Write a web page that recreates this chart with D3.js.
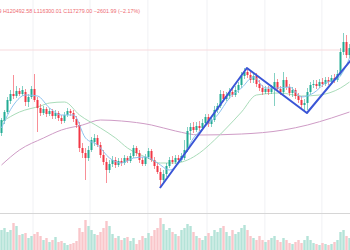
<!DOCTYPE html>
<html>
<head>
<meta charset="utf-8">
<script src="https://cdn.jsdelivr.net/npm/d3@7"></script>
<style>
  html, body { margin: 0; padding: 0; background: #fff; overflow: hidden; }
  svg { display: block; }
</style>
</head>
<body>
<svg id="chart" width="350" height="250"></svg>
<script>
// candles, prices in thousands (USD)
const open  = [110.7,111.9,112.8,113.9,114.6,114.4,114.9,114.6,114.8,113.8,114.3,115.1,114.0,113.2,112.7,113.1,112.6,112.9,112.4,112.7,
  112.2,111.9,112.5,112.9,112.7,112.1,111.5,109.2,108.7,108.2,109.0,109.8,110.2,109.5,108.5,107.8,107.0,107.6,108.0,107.5,
  107.9,107.7,108.2,107.9,108.4,109.2,108.7,108.0,107.6,108.3,108.9,108.0,107.4,106.8,106.0,106.6,107.4,108.0,107.8,108.2,
  108.0,108.2,109.0,110.9,111.3,111.0,111.4,111.2,111.7,112.3,111.6,112.0,113.0,113.4,114.6,114.1,114.4,114.8,114.5,115.0,
  115.5,116.4,116.8,116.5,116.0,116.4,115.6,115.2,114.8,115.1,114.8,115.2,115.8,115.1,114.8,116.0,115.3,114.7,115.0,114.4,
  114.0,113.5,113.7,114.8,115.5,115.6,115.4,115.8,115.6,116.0,115.8,116.2,116.0,116.6,118.8,119.8,118.5];
const high  = [112.2,113.0,114.3,115.0,116.5,115.4,115.2,115.4,115.1,114.6,115.4,116.6,114.3,113.6,113.4,113.3,113.2,113.1,113.0,112.9,
  112.5,112.8,113.2,113.1,113.0,112.4,111.8,109.7,109.2,109.4,110.3,110.6,110.5,109.8,109.0,108.2,108.0,108.4,108.3,108.2,
  108.2,108.5,108.4,108.7,109.5,109.4,109.0,108.3,108.6,109.2,109.1,108.3,107.7,107.2,107.0,107.7,108.3,108.4,108.5,108.5,
  108.7,110.0,111.3,111.7,111.8,111.8,111.9,112.1,112.6,112.6,112.3,113.4,113.7,115.0,114.9,114.8,115.2,115.3,115.4,115.8,
  116.8,117.2,117.2,116.9,116.8,116.7,116.0,115.5,115.4,115.4,115.5,116.7,116.1,115.4,116.8,116.3,115.6,115.3,115.2,114.7,
  114.4,114.1,115.2,115.8,116.0,116.0,116.1,116.2,116.3,116.3,116.5,116.6,117.0,119.2,120.7,120.5,119.6];
const low   = [110.4,111.6,112.6,113.6,114.1,114.2,114.4,114.4,113.4,113.3,114.1,113.8,110.8,112.4,112.5,112.3,112.4,112.1,112.1,111.9,
  111.6,111.7,112.3,112.4,111.8,111.2,108.8,108.2,106.0,107.9,108.8,109.4,109.3,108.2,107.5,105.7,106.7,107.3,107.2,107.3,
  107.4,107.5,107.7,107.7,108.2,108.4,107.7,107.4,107.4,108.1,107.8,107.1,106.6,105.2,105.8,106.3,107.2,107.6,107.6,107.8,
  107.8,108.0,108.8,110.0,110.7,110.8,110.9,111.0,111.4,111.3,111.3,111.8,112.7,113.2,113.8,113.9,114.1,114.3,114.3,114.7,
  115.2,116.1,116.2,115.7,115.7,115.3,114.9,114.5,114.6,114.5,114.6,113.4,114.8,114.5,114.6,115.0,114.4,114.3,114.1,113.7,
  113.1,112.8,113.0,114.5,115.2,115.1,115.2,115.3,115.4,115.5,115.6,115.7,115.8,116.4,118.5,118.2,118.2];
const close = [112.0,112.8,114.0,114.6,114.4,114.9,114.6,115.0,113.8,114.3,115.1,114.0,113.2,112.7,113.1,112.6,112.9,112.4,112.7,112.2,
  111.9,112.5,112.9,112.7,112.1,111.5,109.2,108.7,108.2,109.0,110.0,110.2,109.5,108.5,107.8,107.0,107.6,108.0,107.5,107.9,
  107.7,108.2,107.9,108.4,109.2,108.7,108.0,107.6,108.3,108.9,108.0,107.4,106.8,106.0,106.6,107.4,108.0,107.8,108.2,108.0,
  108.4,109.0,110.9,111.3,111.0,111.4,111.2,111.7,112.3,111.6,112.0,113.0,113.4,114.6,114.1,114.4,114.8,114.5,115.0,115.5,
  116.4,116.8,116.5,116.0,116.4,115.6,115.2,114.8,115.1,114.8,115.2,115.8,115.1,114.8,116.0,115.3,114.7,115.0,114.4,114.0,
  113.5,113.7,114.8,115.5,115.6,115.4,115.8,115.6,116.0,115.8,116.2,116.0,116.6,118.8,119.8,118.5,119.2];
const volume = [20,22,18,20,27,24,15,16,17,12,14,16,18,14,10,12,8,10,13,8,
  9,7,5,6,7,9,22,18,30,24,20,16,15,18,22,29,24,16,12,14,
  10,12,13,9,12,6,10,14,12,17,14,20,22,32,26,20,22,18,16,14,
  20,22,26,24,18,14,12,10,14,17,14,20,18,22,24,18,14,20,16,18,
  22,25,20,14,12,10,14,10,8,10,12,14,10,8,12,10,7,6,8,10,
  7,10,14,10,7,6,5,7,6,5,6,8,10,18,20,14,12];

// moving averages: [candle index, value]
const maFast = [[0,111.2],[4,113.5],[8,114.5],[12,114.4],[16,113.2],[20,112.5],[24,112.5],[28,110.2],[32,109.5],[36,108.2],
  [40,107.7],[44,108.2],[48,108.3],[52,107.7],[56,107.0],[60,108.0],[64,110.2],[68,111.4],[72,112.5],[76,114.2],
  [80,115.2],[84,116.3],[88,115.2],[92,115.2],[96,115.3],[100,114.3],[104,114.7],[108,115.7],[112,116.1],[116,118.2]];
const maMid = [[0,111.8],[6,112.8],[13,113.4],[16,113.7],[21,113.8],[26,112.5],[33,111.2],[38,110.2],[42,109.2],[48,108.3],
  [53,107.7],[58,107.7],[62,108.0],[66,108.7],[71,110.0],[75,111.2],[80,112.8],[85,114.5],[93,114.7],[100,114.4],
  [106,114.5],[113,115.2],[116,115.8]];
const maSlow = [[0,107.5],[6,109.0],[14,110.2],[20,111.0],[27,111.5],[33,112.0],[40,111.9],[50,111.5],[58,110.9],[66,110.5],
  [80,110.6],[94,111.0],[102,111.5],[110,112.2],[116,112.8]];

// hand-drawn trendlines: [candle index, value]
const trend = [[52.8,105.2],[81.8,117.2],[101.8,112.7],[116.5,118.0]];

const gridIdx = [10.5, 29.5, 48.8, 68.5, 87.8, 106.8];
const markLevel = 119.0;
const header = 'O119880.99 H120492.58 L116300.01 C117279.00 \u22122601.99 (\u22122.17%)';

const width = 350, height = 250;
const svg = d3.select('#chart');

const x = d3.scaleLinear().domain([0, close.length - 1]).range([1.5, 349.5]);
const y = d3.scaleLinear().domain([104, 124]).range([200, 0]);
const yVol = d3.scaleLinear().domain([0, 40]).range([250, 210]);

const up = '#22ab94', down = '#f23645';
const upVol = '#b4e3d8', downVol = '#f9c6ca';

// grid
svg.append('g')
  .selectAll('line')
  .data(gridIdx)
  .enter()
  .append('line')
  .attr('x1', d => x(d)).attr('x2', d => x(d))
  .attr('y1', 0).attr('y2', height)
  .attr('stroke', '#f0f1f4')
  .attr('stroke-width', 1);

svg.append('line')
  .attr('x1', 0).attr('x2', width)
  .attr('y1', y(markLevel)).attr('y2', y(markLevel))
  .attr('stroke', '#f7dadd')
  .attr('stroke-width', 1);

// volume pane separator
svg.append('line')
  .attr('x1', 0).attr('x2', width)
  .attr('y1', 213.5).attr('y2', 213.5)
  .attr('stroke', '#d6d6d6')
  .attr('stroke-width', 1);

// volume bars
svg.append('g')
  .selectAll('rect')
  .data(volume)
  .enter()
  .append('rect')
  .attr('x', (d, i) => x(i) - 1.2)
  .attr('width', 2.4)
  .attr('y', d => yVol(d))
  .attr('height', d => yVol(0) - yVol(d))
  .attr('fill', (d, i) => close[i] >= open[i] ? upVol : downVol);

// moving averages
const line = d3.line()
  .x(d => x(d[0]))
  .y(d => y(d[1]))
  .curve(d3.curveMonotoneX);

svg.append('path').datum(maSlow).attr('d', line)
  .attr('fill', 'none').attr('stroke', '#cf9cc6').attr('stroke-width', 1);
svg.append('path').datum(maMid).attr('d', line)
  .attr('fill', 'none').attr('stroke', '#a9dcb9').attr('stroke-width', 1);

// candles
const candles = svg.append('g')
  .selectAll('g')
  .data(close)
  .enter()
  .append('g');

candles.append('line')
  .attr('x1', (d, i) => x(i)).attr('x2', (d, i) => x(i))
  .attr('y1', (d, i) => y(high[i]))
  .attr('y2', (d, i) => y(low[i]))
  .attr('stroke', (d, i) => close[i] >= open[i] ? up : down)
  .attr('stroke-opacity', 0.7)
  .attr('stroke-width', 0.8);

candles.append('rect')
  .attr('x', (d, i) => x(i) - 1)
  .attr('width', 2)
  .attr('y', (d, i) => y(Math.max(open[i], close[i])))
  .attr('height', (d, i) => Math.max(1, Math.abs(y(open[i]) - y(close[i]))))
  .attr('fill', (d, i) => close[i] >= open[i] ? up : down);

svg.append('path').datum(maFast).attr('d', line)
  .attr('fill', 'none').attr('stroke', '#8ec3ef').attr('stroke-width', 1);

// trendlines
svg.append('path')
  .datum(trend)
  .attr('d', d3.line().x(d => x(d[0])).y(d => y(d[1])))
  .attr('fill', 'none')
  .attr('stroke', '#3a55d6')
  .attr('stroke-width', 2)
  .attr('stroke-linejoin', 'round');

// header (left part runs off the pane, as in the source)
svg.append('text')
  .attr('x', 140)
  .attr('y', 13)
  .attr('text-anchor', 'end')
  .attr('font-family', 'Liberation Sans, Arial, sans-serif')
  .attr('font-size', 5.4)
  .attr('fill', '#ee6a72')
  .text(header);
</script>
</body>
</html>
